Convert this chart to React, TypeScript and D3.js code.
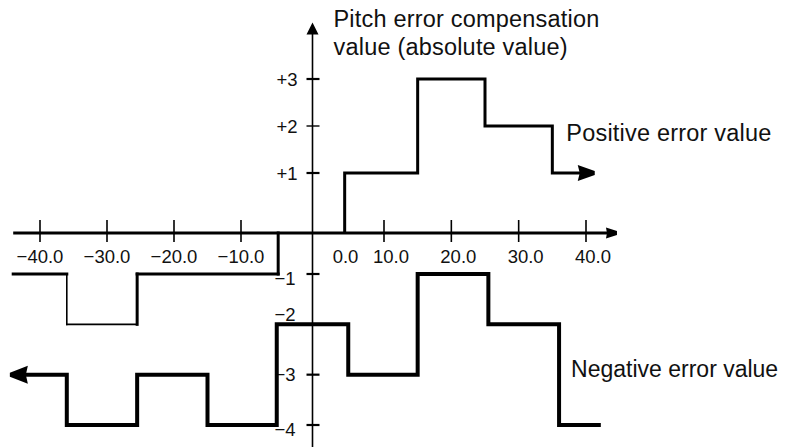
import React, { useEffect } from "react";
import * as d3 from "d3";

const W = 787;
const H = 447;

// Axis ticks and labels
const xTickValues = [-40, -30, -20, -10, 10, 20, 30, 40];
const xLabelValues = [-40, -30, -20, -10, 0, 10, 20, 30, 40];
const yTickValues = [3, 2, 1, -1, -2, -3, -4];

// Positive error value (step curve)
const posStartX = 4.5;
const posStartLevel = 0;
const posBreaks = [4.5, 15, 25, 35];
const posLevels = [1, 3, 2, 1];
const posEndX = 41.3;

// Negative error value (thick step curve)
const negStartX = -44.5;
const negStartLevel = -3;
const negBreaks = [-36, -25.5, -15, -5, 5, 15, 25.5, 36];
const negLevels = [-4, -3, -4, -2, -3, -1, -2, -4];
const negEndX = 42.2;

// Thin step curve on the negative side
const thinStartX = -44;
const thinStartLevel = -1;
const thinBreaks = [-36, -25.5, -4.8];
const thinLevels = [-2, -1, 0];

// Axis extents
const xAxisExtent = [-44, 44.6];
const yAxisExtent = [-4.5, 4.2];

const titleLines = ["Pitch error compensation", "value (absolute value)"];
const posLabel = "Positive error value";
const negLabel = "Negative error value";

const fmtX = (v: number) => (v < 0 ? "\u2212" + Math.abs(v).toFixed(1) : v.toFixed(1));
const fmtY = (v: number) => (v > 0 ? "+" + v : "\u2212" + Math.abs(v));

function stepPoints(startX: number, startLevel: number, breaks: number[], levels: number[], endX: number) {
  const pts: [number, number][] = [[startX, startLevel]];
  breaks.forEach((b, i) => {
    const prev = i === 0 ? startLevel : levels[i - 1];
    pts.push([b, prev]);
    pts.push([b, levels[i]]);
  });
  pts.push([endX, levels[levels.length - 1]]);
  return pts.filter((p, i) => i === 0 || p[0] !== pts[i - 1][0] || p[1] !== pts[i - 1][1]);
}

export default function App() {
  useEffect(() => {
    document.body.style.margin = "0";
  }, []);

  const x = d3.scaleLinear().domain([-40, -10, 10, 40]).range([40, 241, 384, 586]);
  const y = d3.scaleLinear().domain([-4, -1, 0, 1, 3]).range([425, 274, 233, 173, 79]);

  const ax = x(0);
  const ay = y(0);

  const line = d3
    .line<[number, number]>()
    .x((d) => x(d[0]))
    .y((d) => y(d[1]));

  const posPts = stepPoints(posStartX, posStartLevel, posBreaks, posLevels, posEndX);
  const negPts = stepPoints(negStartX, negStartLevel, negBreaks, negLevels, negEndX);
  const thinPts = stepPoints(thinStartX, thinStartLevel, thinBreaks, thinLevels, thinBreaks[thinBreaks.length - 1]);

  const posDraw = posPts.map((p, i) => (i === posPts.length - 1 ? ([p[0] - 1.5, p[1]] as [number, number]) : p));
  const negDraw = negPts.map((p, i) => (i === 0 ? ([p[0] + 1.5, p[1]] as [number, number]) : p));

  const thinSegs = thinPts.slice(1).map((p, i) => ({ a: thinPts[i], b: p, i }));

  const arrow = (tx: number, ty: number, dir: number, len: number, half: number, notch: number) => {
    const pts = [
      [tx, ty - 2],
      [tx, ty + 2],
      [tx - dir * len, ty + half],
      [tx - dir * (len - notch), ty],
      [tx - dir * len, ty - half],
    ];
    return pts.map((p) => p.join(",")).join(" ");
  };

  const font = "'Liberation Sans', Arial, Helvetica, sans-serif";

  const xTipX = x(xAxisExtent[1]);
  const yTipY = y(yAxisExtent[1]);

  const yNudge = (v: number) => (v === -2 ? -10 : v === -1 || v === -4 ? 4 : 0);
  const xLabelPos = (v: number) => (v < 0 ? x(v) : v === 0 ? x(0) + 33 : x(v) + 7);

  return (
    <svg width={W} height={H} style={{ display: "block", background: "#fff" }} fontFamily={font}>
      <rect width={W} height={H} fill="#fff" />
      {/* X axis */}
      <line x1={x(xAxisExtent[0])} x2={xTipX - 6} y1={ay} y2={ay} stroke="#000" strokeWidth={3} />
      <polygon points={arrow(xTipX, ay, 1, 11, 5.5, 1)} fill="#000" />
      {xTickValues.map((v) => (
        <line key={"xt" + v} x1={x(v)} x2={x(v)} y1={ay - 13} y2={ay + 9} stroke="#000" strokeWidth={1.6} />
      ))}
      {xLabelValues.map((v) => (
        <text key={"xl" + v} x={xLabelPos(v)} y={ay + 30} fontSize={18.5} textAnchor="middle" fill="#111">
          {fmtX(v)}
        </text>
      ))}

      {/* Y axis */}
      <line x1={ax} x2={ax} y1={y(yAxisExtent[0])} y2={yTipY + 8} stroke="#000" strokeWidth={1.6} />
      <polygon points={`${ax},${yTipY} ${ax - 6},${yTipY + 12} ${ax + 6},${yTipY + 12}`} fill="#000" />
      {yTickValues.map((v) => (
        <line key={"yt" + v} x1={ax - 6} x2={ax + 7} y1={y(v)} y2={y(v)} stroke="#000" strokeWidth={v === 2 ? 1.4 : 2.2} />
      ))}
      {yTickValues.map((v) => (
        <text
          key={"yl" + v}
          x={v > 0 ? ax - 15 : ax - 17}
          y={y(v) + yNudge(v)}
          dy="0.36em"
          fontSize={18.5}
          textAnchor="end"
          fill="#111"
        >
          {fmtY(v)}
        </text>
      ))}

      {/* Thin curve */}
      {thinSegs.map((s) => (
        <line
          key={"ts" + s.i}
          x1={x(s.a[0])}
          y1={y(s.a[1])}
          x2={x(s.b[0])}
          y2={y(s.b[1])}
          stroke="#000"
          strokeWidth={s.i === 1 || s.i === 2 ? 1.6 : 3}
          strokeLinecap="square"
        />
      ))}

      {/* Positive error value */}
      <path d={line(posDraw) || ""} fill="none" stroke="#000" strokeWidth={3} strokeLinejoin="miter" />
      <polygon points={arrow(x(posEndX), y(posLevels[posLevels.length - 1]), 1, 17, 8, 2)} fill="#000" />

      {/* Negative error value */}
      <path d={line(negDraw) || ""} fill="none" stroke="#000" strokeWidth={4} strokeLinejoin="miter" />
      <polygon points={arrow(x(negStartX), y(negStartLevel), -1, 18, 9, 2)} fill="#000" />

      {/* Texts */}
      {titleLines.map((t, i) => (
        <text key={"title" + i} x={ax + 21} y={27 + i * 28} fontSize={23.5} letterSpacing={0.2} fill="#111">
          {t}
        </text>
      ))}
      <text x={x(posBreaks[3]) + 14} y={y(2) + 15} fontSize={23.5} letterSpacing={0.2} fill="#111">
        {posLabel}
      </text>
      <text x={x(negBreaks[7]) + 12} y={y(-3) + 2} fontSize={23} fill="#111">
        {negLabel}
      </text>
    </svg>
  );
}
